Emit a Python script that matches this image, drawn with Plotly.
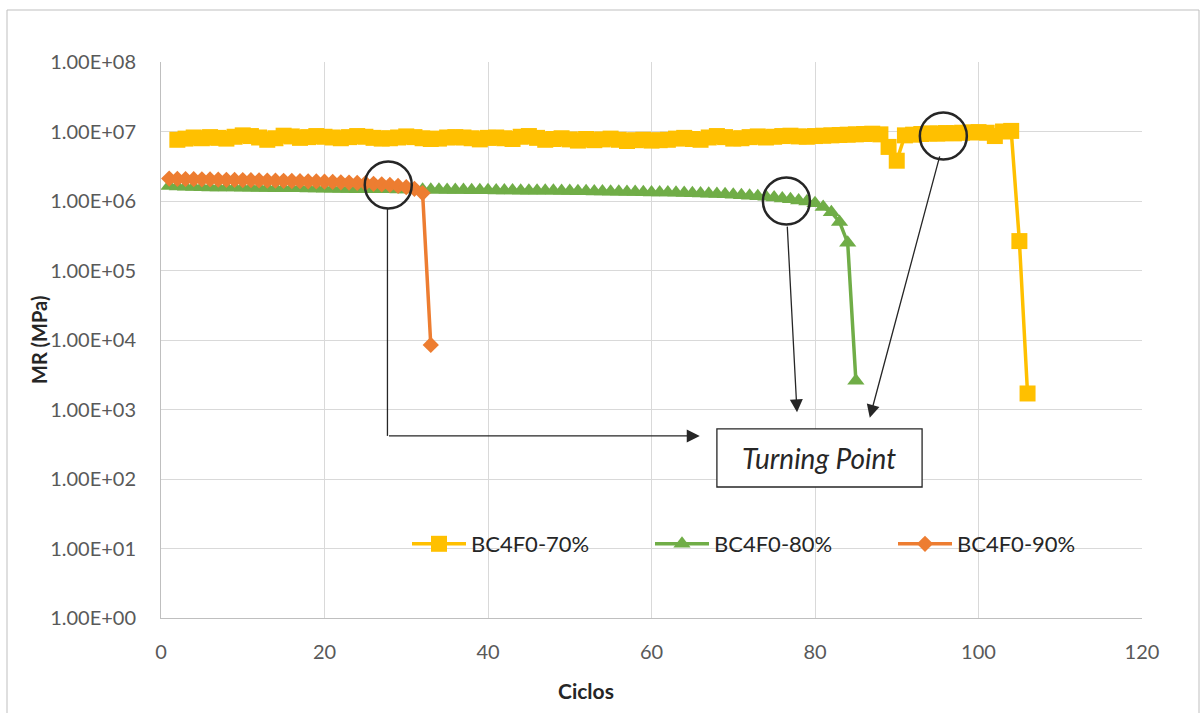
import math
import plotly.graph_objects as go

# --- data -------------------------------------------------------------
cycles_70 = list(range(2, 107))
mr_70 = [
    7.6e6, 7.9e6, 8.2e6, 8.0e6, 8.3e6, 8.1e6, 7.9e6, 8.4e6, 8.8e6, 8.6e6,
    8.2e6, 7.6e6, 8.0e6, 8.7e6, 8.5e6, 8.1e6, 8.3e6, 8.6e6, 8.4e6, 8.2e6,
    8.0e6, 8.3e6, 8.6e6, 8.4e6, 8.1e6, 7.9e6, 8.0e6, 8.2e6, 8.5e6, 8.3e6,
    8.0e6, 7.8e6, 7.9e6, 8.2e6, 8.3e6, 8.2e6, 8.0e6, 7.7e6, 8.1e6, 8.2e6,
    8.0e6, 7.8e6, 8.4e6, 8.6e6, 8.1e6, 7.6e6, 7.8e6, 8.0e6, 7.7e6, 7.4e6,
    7.8e6, 7.5e6, 7.7e6, 7.9e6, 7.6e6, 7.3e6, 7.5e6, 7.6e6, 7.4e6, 7.5e6,
    7.6e6, 7.9e6, 8.1e6, 7.8e6, 7.6e6, 8.2e6, 8.6e6, 8.3e6, 7.9e6, 8.0e6,
    8.3e6, 8.5e6, 8.2e6, 8.4e6, 8.6e6, 8.7e6, 8.5e6, 8.4e6, 8.6e6, 8.7e6,
    8.8e6, 8.9e6, 9.0e6, 9.1e6, 9.2e6, 9.3e6, 9.1e6, 6.0e6, 3.8e6, 8.8e6,
    9.0e6, 9.2e6, 9.4e6, 9.3e6, 9.5e6, 9.4e6, 9.6e6, 9.7e6, 9.8e6, 9.6e6,
    8.6e6, 1.0e7, 1.02e7, 2.65e5, 1.7e3,
]

cycles_80 = list(range(1, 86))
mr_80 = [
    1.65e6, 1.62e6, 1.60e6, 1.59e6, 1.58e6, 1.57e6, 1.57e6, 1.56e6, 1.56e6, 1.55e6,
    1.55e6, 1.54e6, 1.54e6, 1.53e6, 1.53e6, 1.52e6, 1.52e6, 1.51e6, 1.51e6, 1.50e6,
    1.50e6, 1.49e6, 1.49e6, 1.48e6, 1.48e6, 1.47e6, 1.47e6, 1.47e6, 1.46e6, 1.46e6,
    1.46e6, 1.45e6, 1.45e6, 1.45e6, 1.44e6, 1.44e6, 1.44e6, 1.43e6, 1.43e6, 1.43e6,
    1.42e6, 1.42e6, 1.42e6, 1.41e6, 1.41e6, 1.41e6, 1.40e6, 1.40e6, 1.39e6, 1.39e6,
    1.38e6, 1.38e6, 1.37e6, 1.37e6, 1.36e6, 1.36e6, 1.35e6, 1.35e6, 1.34e6, 1.33e6,
    1.33e6, 1.32e6, 1.31e6, 1.30e6, 1.29e6, 1.28e6, 1.27e6, 1.26e6, 1.25e6, 1.23e6,
    1.21e6, 1.19e6, 1.17e6, 1.15e6, 1.12e6, 1.09e6, 1.06e6, 1.02e6, 9.8e5, 9.3e5,
    8.2e5, 6.9e5, 5.0e5, 2.5e5, 2.6e3,
]

cycles_90 = list(range(1, 34))
mr_90 = [
    2.10e6, 2.08e6, 2.07e6, 2.06e6, 2.05e6, 2.04e6, 2.03e6, 2.02e6, 2.01e6, 2.00e6,
    1.99e6, 1.98e6, 1.97e6, 1.96e6, 1.95e6, 1.94e6, 1.93e6, 1.92e6, 1.91e6, 1.90e6,
    1.88e6, 1.86e6, 1.84e6, 1.82e6, 1.80e6, 1.77e6, 1.74e6, 1.70e6, 1.65e6, 1.58e6,
    1.50e6, 1.30e6, 8.5e3,
]

series_names = ["BC4F0-70%", "BC4F0-80%", "BC4F0-90%"]
y_tickvals = [1e0, 1e1, 1e2, 1e3, 1e4, 1e5, 1e6, 1e7, 1e8]
y_ticktext = ["1.00E+00", "1.00E+01", "1.00E+02", "1.00E+03", "1.00E+04",
              "1.00E+05", "1.00E+06", "1.00E+07", "1.00E+08"]
x_tickvals = [0, 20, 40, 60, 80, 100, 120]
X_RANGE = [0, 120]
Y_DECADES = [0, 8]

# turning points highlighted on each curve (cycle, MR)
turning_points = [(27.8, 1.7e6), (76.5, 1.0e6), (95.7, 8.6e6)]

# --- styling ------------------------------------------------------------
FONT = "Lato"
C_YELLOW = "#FFC000"
C_GREEN = "#70AD47"
C_ORANGE = "#ED7D31"
INK = "#262626"

W, H = 1202, 713
ML, MR_, MT, MB = 161, 60, 62, 95
PW, PH = W - ML - MR_, H - MT - MB


def px_x(p):
    return (p - ML) / PW


def px_y(p):
    return (H - MB - p) / PH


def data_to_paper(x, y):
    """Map a (cycle, MR) pair onto paper coordinates of the log plot."""
    fx = (x - X_RANGE[0]) / (X_RANGE[1] - X_RANGE[0])
    fy = (math.log10(y) - Y_DECADES[0]) / (Y_DECADES[1] - Y_DECADES[0])
    return fx, fy


fig = go.Figure()
fig.add_trace(go.Scatter(
    x=cycles_70, y=mr_70, name=series_names[0], mode="lines+markers",
    line=dict(color=C_YELLOW, width=3.5),
    marker=dict(symbol="square", size=16, color=C_YELLOW),
))
fig.add_trace(go.Scatter(
    x=cycles_80, y=mr_80, name=series_names[1], mode="lines+markers",
    line=dict(color=C_GREEN, width=3.5),
    marker=dict(symbol="triangle-up", size=15, color=C_GREEN),
))
fig.add_trace(go.Scatter(
    x=cycles_90, y=mr_90, name=series_names[2], mode="lines+markers",
    line=dict(color=C_ORANGE, width=3.5),
    marker=dict(symbol="diamond", size=12.5, color=C_ORANGE),
))

# circles around the turning points
R = 23.5
for cx, cy in turning_points:
    fx, fy = data_to_paper(cx, cy)
    fig.add_shape(
        type="circle", xref="paper", yref="paper",
        x0=fx - R / PW, x1=fx + R / PW, y0=fy - R / PH, y1=fy + R / PH,
        line=dict(color=INK, width=2.5), fillcolor="rgba(0,0,0,0)",
    )

# elbow connector from the first circle
fx0, fy0 = data_to_paper(27.7, 1.7e6)
fx1, fy1 = data_to_paper(27.7, 417)
fig.add_shape(type="line", xref="paper", yref="paper",
              x0=fx0, x1=fx1, y0=fy0 - R / PH, y1=fy1,
              line=dict(color=INK, width=1.3))

# arrows (annotation coordinates on a log axis use log10 values)
arrows = [
    # (head_x, head_y, tail_x, tail_y)
    (65.9, 417, 27.7, 417),
    (77.8, 9.1e2, 76.6, 4.5e5),
    (86.7, 7.6e2, 95.3, 4.6e6),
]
for hx, hy, tx, ty in arrows:
    fig.add_annotation(
        x=hx, y=math.log10(hy), ax=tx, ay=math.log10(ty),
        xref="x", yref="y", axref="x", ayref="y",
        text="", showarrow=True, arrowhead=2, arrowsize=2.0,
        arrowwidth=1.3, arrowcolor=INK, standoff=0, startstandoff=0,
    )

# "Turning Point" label box
fig.add_shape(type="rect", xref="x", yref="y",
              x0=68.0, x1=93.1, y0=76.7, y1=525,
              line=dict(color=INK, width=1.3), fillcolor="white")
fig.add_annotation(
    x=80.5, y=2.30, xref="x", yref="y", text="<i>Turning Point</i>",
    showarrow=False, xanchor="center", yanchor="middle",
    font=dict(family=FONT, size=28, color=INK),
)

# axis titles
fig.add_annotation(
    x=px_x(586), y=px_y(690), xref="paper", yref="paper",
    text="<b>Ciclos</b>", showarrow=False, xanchor="center", yanchor="middle",
    font=dict(family=FONT, size=21, color=INK),
)
fig.add_annotation(
    x=px_x(39), y=px_y(340), xref="paper", yref="paper",
    text="<b>MR (MPa)</b>", showarrow=False, textangle=-90,
    xanchor="center", yanchor="middle",
    font=dict(family=FONT, size=20, color=INK),
)

# outer chart frame
fig.add_shape(type="rect", xref="paper", yref="paper",
              x0=px_x(7), x1=px_x(1199), y0=px_y(720), y1=px_y(10),
              line=dict(color="#bfbfbf", width=1), fillcolor="rgba(0,0,0,0)",
              layer="below")

fig.update_layout(
    width=W, height=H,
    margin=dict(l=ML, r=MR_, t=MT, b=MB),
    paper_bgcolor="white", plot_bgcolor="white",
    font=dict(family=FONT, color="#595959"),
    showlegend=True,
    legend=dict(
        orientation="h", x=px_x(407), y=px_y(544),
        xanchor="left", yanchor="middle",
        entrywidth=174, entrywidthmode="pixels", itemwidth=54,
        bgcolor="rgba(0,0,0,0)",
        font=dict(family=FONT, size=22, color=INK),
    ),
    xaxis=dict(
        range=X_RANGE, tickvals=x_tickvals,
        showgrid=True, gridcolor="#d9d9d9", gridwidth=1,
        showline=True, linecolor="#bfbfbf", linewidth=1,
        zeroline=False, ticks="", ticklabelstandoff=16,
        tickfont=dict(family=FONT, size=20, color="#595959"),
    ),
    yaxis=dict(
        type="log", range=Y_DECADES,
        tickvals=y_tickvals, ticktext=y_ticktext,
        showgrid=True, gridcolor="#d9d9d9", gridwidth=1,
        showline=True, linecolor="#bfbfbf", linewidth=1,
        zeroline=False, ticks="", ticklabelstandoff=20,
        tickfont=dict(family=FONT, size=20, color="#595959"),
    ),
)

fig.write_html("out.html")
